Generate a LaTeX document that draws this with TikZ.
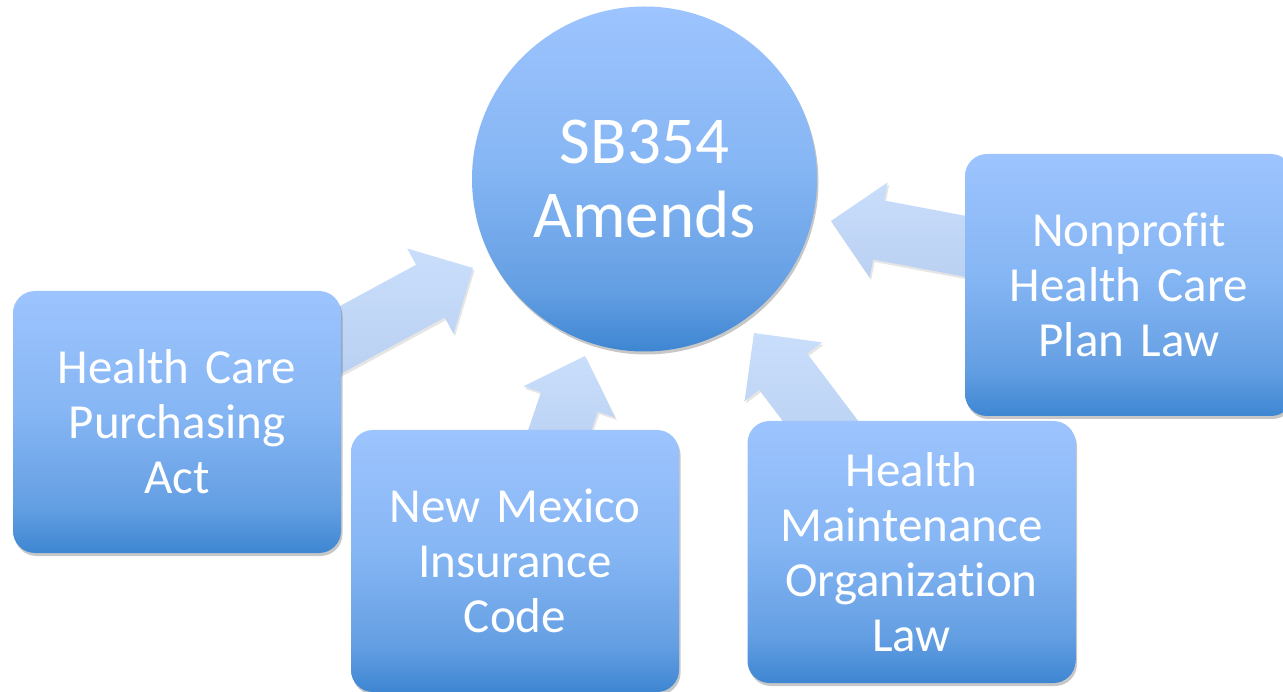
\documentclass[tikz,border=0pt]{standalone}
\usepackage{fontspec}
\setmainfont{Carlito}[Ligatures={TeX,NoCommon}]
\usetikzlibrary{calc,shadows}
\definecolor{bdark}{RGB}{62,134,210}
\definecolor{bmid}{RGB}{100,159,227}
\definecolor{bmid2}{RGB}{134,182,244}
\definecolor{blight}{RGB}{157,196,254}
\definecolor{atop}{RGB}{201,222,251}
\definecolor{abot}{RGB}{186,208,242}
\pgfdeclareverticalshading{sbshade}{100bp}{color(0bp)=(bdark); color(25bp)=(bdark); color(34bp)=(bmid); color(52bp)=(bmid2); color(75bp)=(blight); color(100bp)=(blight)}
\pgfdeclarelayer{background}
\pgfsetlayers{background,main}
\newcommand{\blockarrow}[2]{%
  \coordinate (neck) at ($(#2)!48.5pt!(#1)$);
  \path[arrowbody] ($(#1)!30pt!90:(#2)$) -- ($(neck)!30pt!90:(#2)$) -- ($(neck)!48.5pt!90:(#2)$) -- (#2)
    -- ($(neck)!48.5pt!-90:(#2)$) -- ($(neck)!30pt!-90:(#2)$) -- ($(#1)!30pt!-90:(#2)$) -- cycle;}
\tikzset{
  boxst/.style={rectangle, rounded corners=22pt, minimum width=328pt, minimum height=262pt,
    text width=310pt, align=center, inner sep=0pt, shading=sbshade, text=white,
    font=\fontsize{49}{55}\selectfont,
    drop shadow={shadow xshift=1.5pt, shadow yshift=-3pt, opacity=0.22, fill=black}},
  circst/.style={circle, minimum size=345pt, inner sep=0pt, shading=sbshade, text=white,
    align=center, font=\fontsize{67}{74}\selectfont,
    drop shadow={shadow xshift=1.5pt, shadow yshift=-3pt, opacity=0.22, fill=black}},
  arrowbody/.style={top color=atop, bottom color=abot,
    drop shadow={shadow xshift=1.5pt, shadow yshift=-2.5pt, opacity=0.10, fill=black}}
}
\begin{document}
\begin{tikzpicture}[x=1pt,y=-1pt]
\useasboundingbox (0,0) rectangle (1283,692);
\node[circst] (c) at (644.5,179) {SB354\\Amends};
\node[boxst] (hcpa) at (177,422) {Health Care\\Purchasing\\Act};
\node[boxst] (nmic) at (515,561) {New Mexico\\Insurance\\Code};
\node[boxst] (hmo) at (911.5,552) {Health\\Maintenance\\Organization\\Law};
\node[boxst] (np) at (1129,285) {Nonprofit\\Health Care\\Plan Law};
\coordinate (t1) at (320,351); \coordinate (p1) at (473,268);
\coordinate (t2) at (553,450); \coordinate (p2) at (585,356);
\coordinate (t3) at (835,440); \coordinate (p3) at (754,333);
\coordinate (t4) at (990,251); \coordinate (p4) at (831,221);
\begin{pgfonlayer}{background}
\blockarrow{t1}{p1}
\blockarrow{t2}{p2}
\blockarrow{t3}{p3}
\blockarrow{t4}{p4}
\end{pgfonlayer}
\end{tikzpicture}
\end{document}
